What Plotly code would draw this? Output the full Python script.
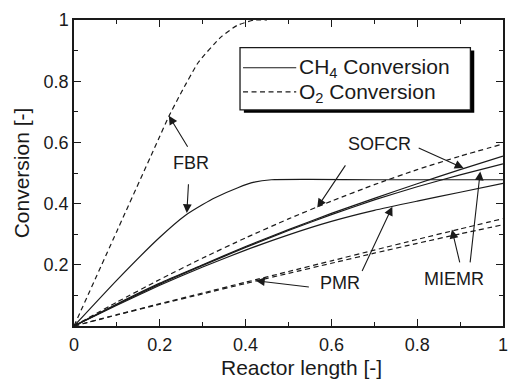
import plotly.graph_objects as go

# ---------------- data ----------------
x_grid = [0.0, 0.1, 0.2, 0.3, 0.4, 0.5, 0.6, 0.7, 0.8, 0.9, 1.0]

fbr_o2_x = [0.0, 0.1, 0.2, 0.221, 0.25, 0.29, 0.343, 0.38, 0.42, 0.45]
fbr_o2_y = [0.0, 0.31, 0.62, 0.685, 0.763, 0.862, 0.945, 0.982, 1.0, 1.0]

fbr_ch4_x = [0.0, 0.1, 0.2, 0.26, 0.3, 0.33, 0.382, 0.42, 0.46, 0.55, 0.7, 1.0]
fbr_ch4_y = [0.0, 0.150, 0.290, 0.362, 0.397, 0.420, 0.452, 0.470, 0.478, 0.479, 0.478, 0.478]

sofcr_o2 = [0.0, 0.078, 0.152, 0.222, 0.288, 0.350, 0.408, 0.462, 0.511, 0.555, 0.595]
sofcr_ch4 = [0.0, 0.072, 0.140, 0.200, 0.260, 0.315, 0.368, 0.417, 0.465, 0.511, 0.555]
miemr_ch4 = [0.0, 0.070, 0.137, 0.198, 0.257, 0.312, 0.364, 0.412, 0.455, 0.494, 0.530]
pmr_ch4 = [0.0, 0.068, 0.133, 0.193, 0.248, 0.298, 0.342, 0.378, 0.408, 0.437, 0.466]
pmr_o2 = [0.0, 0.037, 0.073, 0.108, 0.143, 0.178, 0.213, 0.248, 0.283, 0.317, 0.351]
miemr_o2 = [0.0, 0.036, 0.071, 0.105, 0.139, 0.172, 0.205, 0.238, 0.270, 0.301, 0.331]

tick_vals = [0.0, 0.2, 0.4, 0.6, 0.8, 1.0]
x_tick_text = ["0", "0.2", "0.4", "0.6", "0.8", "1"]
y_tick_vals = [0.2, 0.4, 0.6, 0.8, 1.0]
y_tick_text = ["0.2", "0.4", "0.6", "0.8", "1"]

# labels: (text, x, y)
labels = [("FBR", 0.272, 0.532), ("SOFCR", 0.712, 0.595),
          ("PMR", 0.620, 0.139), ("MIEMR", 0.885, 0.153)]
# arrows: (tip_x, tip_y, tail_x, tail_y)
arrows = [(0.221, 0.687, 0.267, 0.581), (0.263, 0.369, 0.267, 0.468),
          (0.908, 0.516, 0.800, 0.584), (0.567, 0.387, 0.635, 0.530),
          (0.424, 0.148, 0.551, 0.127), (0.742, 0.390, 0.670, 0.175),
          (0.881, 0.315, 0.900, 0.203), (0.947, 0.505, 0.923, 0.203)]

FONT = "Liberation Sans, Arial, Helvetica, sans-serif"
INK = "#1a1a1a"
DASH = "5px,3.5px"

fig = go.Figure()

def add_line(xs, ys, dashed):
    fig.add_trace(go.Scatter(
        x=xs, y=ys, mode="lines", showlegend=False, hoverinfo="skip",
        line=dict(color=INK, width=1.2, dash=DASH if dashed else "solid",
                  shape="spline", smoothing=0.5)))

add_line(fbr_o2_x, fbr_o2_y, True)
add_line(fbr_ch4_x, fbr_ch4_y, False)
add_line(x_grid, sofcr_o2, True)
add_line(x_grid, sofcr_ch4, False)
add_line(x_grid, miemr_ch4, False)
add_line(x_grid, pmr_ch4, False)
add_line(x_grid, pmr_o2, True)
add_line(x_grid, miemr_o2, True)

for t, lx, ly in labels:
    fig.add_annotation(x=lx, y=ly, xref="x", yref="y", text=t, showarrow=False,
                       font=dict(family=FONT, size=18, color=INK))

for tx, ty, sx, sy in arrows:
    fig.add_annotation(x=tx, y=ty, ax=sx, ay=sy, xref="x", yref="y",
                       axref="x", ayref="y", text="", showarrow=True,
                       arrowhead=2, arrowsize=1.6, arrowwidth=1.1,
                       arrowcolor=INK, standoff=0, startstandoff=0)

# legend box with shadow
fig.add_shape(type="rect", xref="x", yref="y", x0=0.396, x1=0.933, y0=0.697, y1=0.900,
              fillcolor="black", line=dict(width=0))
fig.add_shape(type="rect", xref="x", yref="y", x0=0.387, x1=0.924, y0=0.706, y1=0.910,
              fillcolor="white", line=dict(color=INK, width=1.3))
fig.add_shape(type="line", xref="x", yref="y", x0=0.394, x1=0.518, y0=0.844, y1=0.844,
              line=dict(color=INK, width=1.2))
fig.add_shape(type="line", xref="x", yref="y", x0=0.394, x1=0.518, y0=0.765, y1=0.765,
              line=dict(color=INK, width=1.2, dash=DASH))
fig.add_annotation(x=0.520, y=0.842, xref="x", yref="y", xanchor="left",
                   text="CH<sub>4</sub> Conversion", showarrow=False,
                   font=dict(family=FONT, size=21, color=INK))
fig.add_annotation(x=0.520, y=0.763, xref="x", yref="y", xanchor="left",
                   text="O<sub>2</sub> Conversion", showarrow=False,
                   font=dict(family=FONT, size=21, color=INK))

axis_common = dict(range=[0, 1], showgrid=False, zeroline=False, showline=True,
                   linecolor=INK, linewidth=1.5, mirror="allticks",
                   ticks="inside", ticklen=7, tickwidth=1.3, tickcolor=INK,
                   tickfont=dict(family=FONT, size=18, color=INK),
                   minor=dict(ticks="inside", ticklen=4, dtick=0.1, tickcolor=INK,
                              tickwidth=1.1, showgrid=False))

fig.update_xaxes(**axis_common, tickvals=tick_vals, ticktext=x_tick_text,
                 ticklabelstandoff=2)
fig.update_yaxes(**axis_common, tickvals=y_tick_vals, ticktext=y_tick_text,
                 title=dict(text="Conversion [-]", standoff=8,
                            font=dict(family=FONT, size=21, color=INK)))

# x-axis title (placed as in the original, slightly right of centre)
fig.add_annotation(x=0.530, y=-0.137, xref="paper", yref="paper",
                   text="Reactor length [-]", showarrow=False,
                   xanchor="center", yanchor="middle",
                   font=dict(family=FONT, size=21, color=INK))

fig.update_layout(width=518, height=380, margin=dict(l=74, r=10, t=16, b=54),
                  plot_bgcolor="white", paper_bgcolor="white",
                  font=dict(family=FONT, color=INK))

fig.write_html("out.html")
